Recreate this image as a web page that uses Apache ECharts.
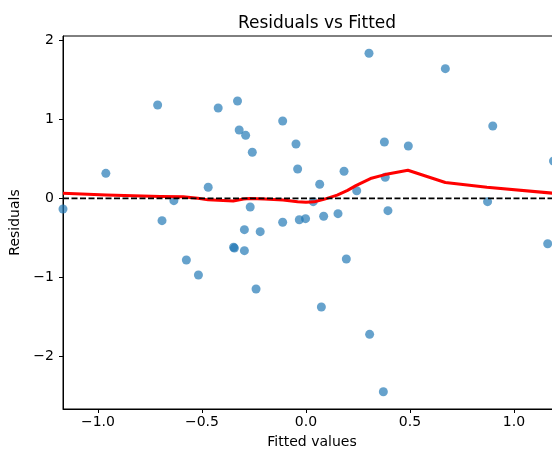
<!DOCTYPE html>
<html lang="en">
<head>
    <meta charset="UTF-8">
    <title>Residuals vs Fitted</title>
    <style>
        body { margin: 0; overflow: hidden; background: #fff; }
        #chart { width: 552px; height: 450px; }
    </style>
</head>
<body>
    <div id="chart"></div>
    <script src="https://cdn.jsdelivr.net/npm/echarts@6/dist/echarts.min.js"></script>
    <script>
        // fitted values / residuals
        var fitted = [-1.168, -0.962, -0.713, -0.692, -0.635, -0.575, -0.517, -0.470, -0.422, -0.348,
            -0.344, -0.329, -0.321, -0.296, -0.296, -0.290, -0.268, -0.258, -0.240, -0.220,
            -0.112, -0.112, -0.048, -0.040, -0.032, -0.002, 0.035, 0.066, 0.074, 0.085,
            0.154, 0.183, 0.194, 0.244, 0.303, 0.306, 0.372, 0.377, 0.381, 0.394,
            0.492, 0.670, 0.873, 0.898, 1.162, 1.190];
        var residuals = [-0.135, 0.316, 1.181, -0.283, -0.030, -0.781, -0.971, 0.139, 1.143, -0.620,
            -0.630, 1.231, 0.864, -0.397, -0.663, 0.797, -0.110, 0.582, -1.148, -0.422,
            0.978, -0.304, 0.687, 0.371, -0.271, -0.258, -0.043, 0.177, -1.376, -0.228,
            -0.195, 0.342, -0.768, 0.096, 1.835, -1.722, -2.448, 0.713, 0.266, -0.157,
            0.662, 1.641, -0.043, 0.915, -0.575, 0.472];

        // lowess smooth (red line)
        var lowessX = [-1.168, -0.96, -0.70, -0.59, -0.52, -0.47, -0.35, -0.30, -0.27, -0.20, -0.11, -0.04,
            0.0, 0.04, 0.09, 0.15, 0.20, 0.24, 0.31, 0.38, 0.49, 0.67, 0.87, 1.226];
        var lowessY = [0.063, 0.04, 0.022, 0.018, 0.0, -0.02, -0.035, -0.01, -0.002, -0.008, -0.022, -0.045,
            -0.05, -0.045, -0.01, 0.04, 0.10, 0.16, 0.25, 0.30, 0.355, 0.20, 0.14, 0.055];

        var xTicks = [-1.0, -0.5, 0.0, 0.5, 1.0];
        var yTicks = [-2, -1, 0, 1, 2];

        var xMin = -1.168, xMax = 1.226;
        var yMin = -2.667, yMax = 2.054;

        function fmt(v, digits) {
            return v.toFixed(digits).replace('-', '\u2212');
        }

        var font = 'DejaVu Sans';

        var chart = echarts.init(document.getElementById('chart'));
        chart.setOption({
            animation: false,
            title: {
                text: 'Residuals vs Fitted',
                left: 312,
                top: 10,
                textAlign: 'center',
                textStyle: { fontFamily: font, fontSize: 17, fontWeight: 'normal', color: '#000' }
            },
            grid: {
                left: 63, top: 36, right: -9, bottom: 41,
                outerBoundsMode: 'none',
                containLabel: false,
                show: true, borderColor: '#000', borderWidth: 1
            },
            xAxis: {
                type: 'value',
                min: xMin, max: xMax,
                name: 'Fitted values',
                nameLocation: 'middle',
                nameGap: 26,
                nameTextStyle: { fontFamily: font, fontSize: 14, color: '#000' },
                axisLine: { show: true, onZero: false, lineStyle: { color: '#000', width: 1 } },
                axisTick: { show: true, length: 4, customValues: xTicks, lineStyle: { color: '#000' } },
                axisLabel: {
                    customValues: xTicks, margin: 6,
                    fontFamily: font, fontSize: 14, color: '#000',
                    formatter: function (v) { return fmt(v, 1); }
                },
                splitLine: { show: false }
            },
            yAxis: {
                type: 'value',
                min: yMin, max: yMax,
                name: 'Residuals',
                nameLocation: 'middle',
                nameGap: 36,
                nameTextStyle: { fontFamily: font, fontSize: 14, color: '#000' },
                axisLine: { show: true, onZero: false, lineStyle: { color: '#000', width: 1 } },
                axisTick: { show: true, length: 4, customValues: yTicks, lineStyle: { color: '#000' } },
                axisLabel: {
                    customValues: yTicks, margin: 9,
                    fontFamily: font, fontSize: 14, color: '#000',
                    formatter: function (v) { return fmt(v, 0); }
                },
                splitLine: { show: false }
            },
            series: [{
                type: 'scatter',
                data: fitted.map(function (x, i) { return [x, residuals[i]]; }),
                symbolSize: 9,
                itemStyle: { color: 'rgba(31,119,180,0.85)' },
                z: 2
            }, {
                type: 'line',
                data: lowessX.map(function (x, i) { return [x, lowessY[i]]; }),
                smooth: false,
                showSymbol: false,
                lineStyle: { color: '#ff0000', width: 3, join: 'round' },
                z: 3
            }, {
                type: 'line',
                data: [[xMin, 0], [xMax, 0]],
                showSymbol: false,
                lineStyle: { color: '#000', width: 1.7, type: [6, 2.5] },
                z: 4
            }]
        });
    </script>
</body>
</html>
